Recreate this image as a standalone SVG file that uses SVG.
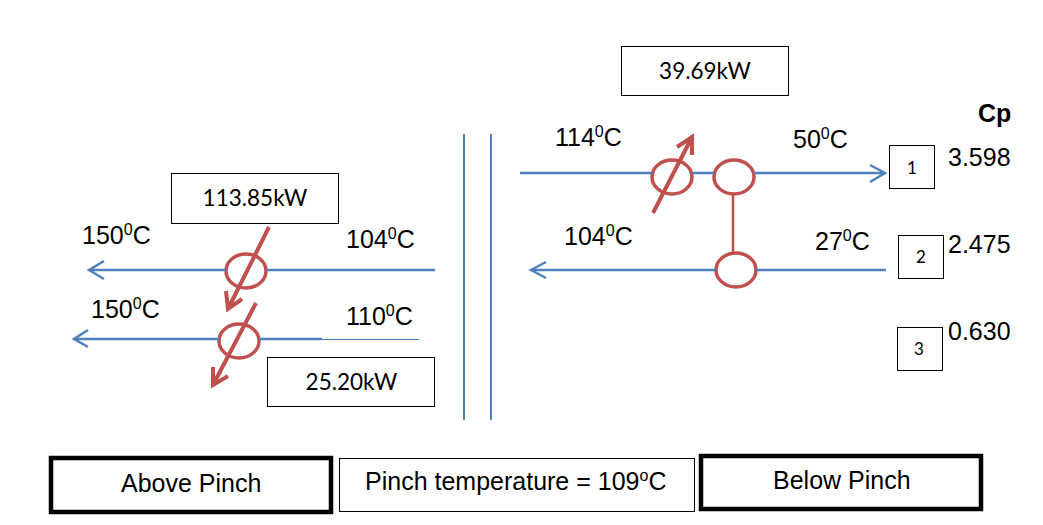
<svg xmlns="http://www.w3.org/2000/svg" width="1043" height="525" viewBox="0 0 1043 525">
<style>
.s{fill:none;stroke:#4f81bd;stroke-width:2.500}
.v{fill:none;stroke:#4f81bd;stroke-width:2}
.r{fill:none;stroke:#c0504d;stroke-width:4}
.l{fill:none;stroke:#c0504d;stroke-width:2.500}
.c{fill:#fff;stroke:#c0504d;stroke-width:3.500}
.b{fill:#fff;stroke:#000;stroke-width:1}
.h{fill:#fff;stroke:#000;stroke-width:4.500}
.k{font:22.500px Lato,"Liberation Sans",sans-serif;fill:#000;text-anchor:middle}
.n{font:17px Lato,"Liberation Sans",sans-serif;fill:#000;text-anchor:middle}
.t{font:25px "Liberation Sans",Arial,sans-serif;fill:#000}
.u{font-size:16px}
</style>
<rect width="1043" height="525" fill="#fff"/>
<g id="hx-1"><ellipse class="c" cx="246" cy="271" rx="20" ry="17"/></g>
<g id="hx-2"><ellipse class="c" cx="239" cy="341" rx="20" ry="17"/></g>
<g id="hx-3"><ellipse class="c" cx="672" cy="177" rx="20" ry="17"/></g>
<g id="hx-4"><ellipse class="c" cx="734" cy="177" rx="20" ry="17"/></g>
<g id="hx-5"><ellipse class="c" cx="736" cy="270" rx="20" ry="17"/></g>
<g id="connectors">
<path class="v" d="M464 134V420M491 134V420"/>
<path class="s" d="M435 270H266M226 270H89M104 261L89 270L104 279"/>
<path class="s" d="M322 339H259M219 339H74M88 330L74 339L88 347"/>
<path d="M419 339.500H322" fill="none" stroke="#4f81bd" stroke-width="1.200"/>
<path class="s" d="M520 173H652M692 173H714M754 173H885M870 165L885 173L870 182"/>
<path class="s" d="M886 270H756M716 270H531M546 262L531 270L546 278"/>
<path class="l" d="M733 195V252"/>
<path class="r" d="M269 227L228 309M226 291L228 309L242 299"/>
<path class="r" d="M256 303L213 385M213 367L213 385L228 376"/>
<path class="r" d="M653 213L692 137M677 147L692 137L692 155"/>
</g>
<g id="duty-113"><rect class="b" x="171.500" y="173.500" width="167" height="50"/><text class="k" x="255" y="206">113.85kW</text></g>
<g id="duty-25"><rect class="b" x="267.500" y="357.500" width="167" height="49"/><text class="k" x="351.500" y="390">25.20kW</text></g>
<g id="duty-39"><rect class="b" x="621.500" y="46.500" width="167" height="49"/><text class="k" x="705" y="79">39.69kW</text></g>
<g id="stream-1"><rect class="b" x="889.500" y="145.500" width="45" height="43"/><text class="n" x="912" y="174">1</text></g>
<g id="stream-2"><rect class="b" x="898.500" y="235.500" width="45" height="43"/><text class="n" x="921" y="263">2</text></g>
<g id="stream-3"><rect class="b" x="897.500" y="327.500" width="45" height="43"/><text class="n" x="919" y="355">3</text></g>
<g id="temps">
<text class="t" x="82" y="244">150<tspan class="u" dy="-9">0</tspan><tspan dy="9">C</tspan></text>
<text class="t" x="91" y="318">150<tspan class="u" dy="-9">0</tspan><tspan dy="9">C</tspan></text>
<text class="t" x="346" y="248">104<tspan class="u" dy="-9">0</tspan><tspan dy="9">C</tspan></text>
<text class="t" x="346" y="325">110<tspan class="u" dy="-9">0</tspan><tspan dy="9">C</tspan></text>
<text class="t" x="555" y="146">114<tspan class="u" dy="-9">0</tspan><tspan dy="9">C</tspan></text>
<text class="t" x="793" y="148">50<tspan class="u" dy="-9">0</tspan><tspan dy="9">C</tspan></text>
<text class="t" x="564" y="245">104<tspan class="u" dy="-9">0</tspan><tspan dy="9">C</tspan></text>
<text class="t" x="815" y="250">27<tspan class="u" dy="-9">0</tspan><tspan dy="9">C</tspan></text>
</g>
<g id="cp">
<text class="t" x="978" y="122" style="font-weight:700">Cp</text>
<text class="t" x="948" y="166">3.598</text>
<text class="t" x="948" y="253">2.475</text>
<text class="t" x="948" y="340">0.630</text>
</g>
<g id="above"><rect class="h" x="51" y="458" width="280" height="54"/><text class="t" x="121" y="492">Above Pinch</text></g>
<g id="pinch"><rect class="b" x="339.500" y="458.500" width="355" height="53"/><text class="t" x="365" y="490">Pinch temperature = 109<tspan class="u" dy="-9">o</tspan><tspan dy="9">C</tspan></text></g>
<g id="below"><rect class="h" x="701" y="456" width="280" height="53"/><text class="t" x="773" y="489">Below Pinch</text></g>
</svg>
